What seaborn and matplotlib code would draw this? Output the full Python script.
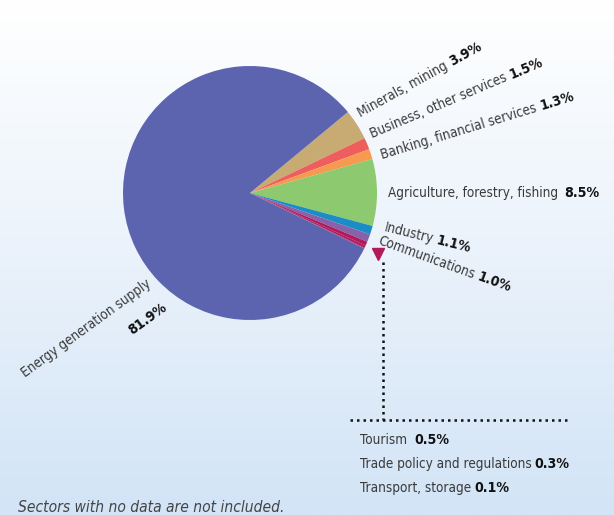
"""
Pie chart of sector shares (energy generation supply dominates).
"""

import numpy as np
import matplotlib
matplotlib.use("Agg")
import matplotlib.pyplot as plt
from matplotlib import font_manager
import seaborn as sns

# data
sectors = ['Minerals, mining', 'Business, other services', 'Banking, financial services',
           'Agriculture, forestry, fishing', 'Industry', 'Communications',
           'Tourism', 'Trade policy and regulations', 'Transport, storage',
           'Energy generation supply']
shares = [3.9, 1.5, 1.3, 8.5, 1.1, 1.0, 0.5, 0.3, 0.1, 81.9]
share_labels = ['3.9%', '1.5%', '1.3%', '8.5%', '1.1%', '1.0%', '0.5%', '0.3%', '0.1%', '81.9%']
colors = ['#C8AB72', '#EE5E5C', '#F7994E', '#8DC96E', '#1A8DC6', '#8762A8',
          '#B2195B', '#B2195B', '#B2195B', '#5D64AF']

sns.set_theme(style="white")

# look for a condensed face, the original uses a narrow typeface
family, stretch = 'DejaVu Sans', 'normal'
for f in font_manager.fontManager.ttflist:
    if f.name in ('DejaVu Sans', 'Noto Sans', 'Open Sans', 'Roboto') and str(f.stretch) in ('condensed', 'semi-condensed'):
        family, stretch = f.name, 'condensed'
        break
plt.rcParams['font.family'] = [family, 'DejaVu Sans']
plt.rcParams['font.stretch'] = stretch

W, H = 614, 515
fig = plt.figure(figsize=(W / 100, H / 100), dpi=100)
renderer = fig.canvas.get_renderer()

# scale the font so the long label spans about the same width as the original
probe = fig.text(0, 0, sectors[3], fontsize=11)
pw = probe.get_window_extent(renderer).width
probe.remove()
fs = min(11.5, 11 * 170 / pw)

# background gradient
bg = fig.add_axes([0, 0, 1, 1])
grad = np.linspace(0, 1, 256).reshape(-1, 1)
cmap = matplotlib.colors.LinearSegmentedColormap.from_list('bg', ['#FFFFFF', '#EAF2FB', '#D2E4F6'])
bg.imshow(grad, aspect='auto', cmap=cmap, extent=[0, 1, 0, 1], origin='upper')
bg.set_axis_off()

# pie, centre (250, 193) px, radius 127 px
cx, cy, r = 250, 193, 127
ax = fig.add_axes([(cx - r) / W, (H - cy - r) / H, 2 * r / W, 2 * r / H])
ax.pie(shares, colors=colors, startangle=39.6, counterclock=False, radius=1,
       wedgeprops=dict(linewidth=0))
ax.set_xlim(-1, 1)
ax.set_ylim(-1, 1)
ax.set_axis_off()

txt_color = '#3a3a3a'
bold_color = '#111111'


def label(x, y, name, value, rot, size=None, gap=4):
    # x, y are pixel positions (y from top) of the baseline start
    size = size or fs
    fx, fy = x / W, 1 - y / H
    t = fig.text(fx, fy, name, fontsize=size, color=txt_color, ha='left', va='baseline',
                 rotation=0, rotation_mode='anchor')
    w = t.get_window_extent(renderer).width
    t.set_rotation(rot)
    a = np.deg2rad(rot)
    bx = x + (w + gap) * np.cos(a)
    by = y - (w + gap) * np.sin(a)
    fig.text(bx / W, 1 - by / H, value, fontsize=size * 1.05, fontweight='bold', color=bold_color,
             ha='left', va='baseline', rotation=rot, rotation_mode='anchor')


label(361, 117, sectors[0], share_labels[0], 29)
label(372, 138, sectors[1], share_labels[1], 23)
label(382, 159, sectors[2], share_labels[2], 17)
label(388, 197, sectors[3], share_labels[3], 0, gap=6)
label(383, 231, sectors[4], share_labels[4], -14)
label(377, 244, sectors[5], share_labels[5], -20)

# energy label: name and value on two lines
fig.text(25 / W, 1 - 378 / H, sectors[9], fontsize=fs, color=txt_color, ha='left',
         va='baseline', rotation=36, rotation_mode='anchor')
fig.text(132 / W, 1 - 335 / H, share_labels[9], fontsize=fs * 1.05, fontweight='bold',
         color=bold_color, ha='left', va='baseline', rotation=36, rotation_mode='anchor')

# pointer to the small slices
bg.plot([378 / W], [1 - 254 / H], marker='v', markersize=9, color='#B2195B',
        transform=fig.transFigure, clip_on=False)
bg.plot([383 / W, 383 / W], [1 - 262 / H, 1 - 420 / H], color='#111111',
        linestyle=(0, (1, 1.6)), linewidth=1.8, transform=fig.transFigure, clip_on=False)
bg.plot([350 / W, 570 / W], [1 - 420 / H, 1 - 420 / H], color='#111111',
        linestyle=(0, (1, 1.6)), linewidth=1.8, transform=fig.transFigure, clip_on=False)

label(360, 444, sectors[6], share_labels[6], 0, gap=7)
label(360, 468, sectors[7], share_labels[7], 0, gap=3)
label(360, 492, sectors[8], share_labels[8], 0, gap=3)

fig.text(18 / W, 1 - 512 / H, 'Sectors with no data are not included.', fontsize=fs * 1.15,
         style='italic', color='#444444', ha='left', va='baseline')

fig.savefig('out.png', dpi=100)
